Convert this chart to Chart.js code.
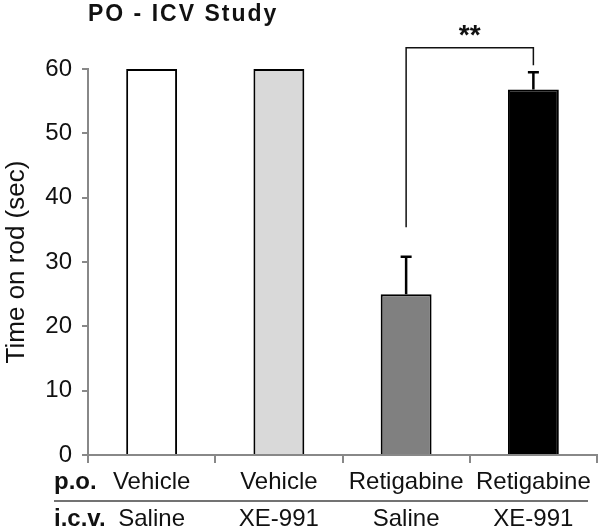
<!DOCTYPE html>
<html lang="en">
<head>
  <meta charset="UTF-8">
  <title>PO - ICV Study</title>
  <script src="https://cdn.jsdelivr.net/npm/chart.js"></script>
  <style>
    html, body { margin: 0; padding: 0; background: #fff; }
    #wrap { width: 600px; height: 528px; }
  </style>
</head>
<body>
  <div id="wrap"><canvas id="rodChart" width="600" height="528"></canvas></div>

  <script>
    // data
    const poLabels = ['Vehicle', 'Vehicle', 'Retigabine', 'Retigabine'];
    const icvLabels = ['Saline', 'XE-991', 'Saline', 'XE-991'];
    const timeOnRod = [60, 60, 25.0, 56.8];
    const sem = [0, 0, 5.8, 2.7];
    const barColors = ['#ffffff', '#d9d9d9', '#808080', '#000000'];
    const rowHeaders = ['p.o.', 'i.c.v.'];
    // significance bracket: between bars 2 and 3, level and leg ends in seconds
    const sigPair = [2, 3];
    const sigLevel = 63.3;
    const sigLegEnds = [35.4, 60.6];
    const sigText = '**';

    const FONT = "'Liberation Sans', Arial, sans-serif";
    const LABEL_SIZE = 24;
    const LINE_H = 37 / 24;
    const X_TICK = 8;
    const X_PAD = 1;

    const extras = {
      id: 'extras',
      afterDraw(chart) {
        const ctx = chart.ctx;
        const xs = chart.scales.x, ys = chart.scales.y;
        const bars = chart.getDatasetMeta(0).data;
        ctx.save();

        // title
        ctx.fillStyle = '#111';
        ctx.font = 'bold 23px ' + FONT;
        ctx.letterSpacing = '2px';
        ctx.textBaseline = 'alphabetic';
        ctx.textAlign = 'left';
        ctx.fillText('PO - ICV Study', chart.chartArea.left, 21);
        ctx.letterSpacing = '0px';

        // error bars (upper only)
        ctx.strokeStyle = '#000';
        ctx.lineWidth = 2.5;
        bars.forEach((b, i) => {
          if (!sem[i]) return;
          const yv = ys.getPixelForValue(timeOnRod[i]);
          const ye = ys.getPixelForValue(timeOnRod[i] + sem[i]);
          ctx.beginPath();
          ctx.moveTo(b.x, yv);
          ctx.lineTo(b.x, ye);
          ctx.moveTo(b.x - 5.5, ye);
          ctx.lineTo(b.x + 5.5, ye);
          ctx.stroke();
        });

        // significance bracket
        const x1 = bars[sigPair[0]].x, x2 = bars[sigPair[1]].x;
        const yl = ys.getPixelForValue(sigLevel);
        ctx.lineWidth = 1.5;
        ctx.strokeStyle = '#111';
        ctx.beginPath();
        ctx.moveTo(x1, ys.getPixelForValue(sigLegEnds[0]));
        ctx.lineTo(x1, yl);
        ctx.lineTo(x2, yl);
        ctx.lineTo(x2, ys.getPixelForValue(sigLegEnds[1]));
        ctx.stroke();
        ctx.font = 'bold 28px ' + FONT;
        ctx.textAlign = 'center';
        ctx.fillStyle = '#111';
        ctx.fillText(sigText, (x1 + x2) / 2, yl - 4);

        // row headers and separator under the x axis
        ctx.textAlign = 'left';
        ctx.textBaseline = 'middle';
        ctx.font = 'bold ' + LABEL_SIZE + 'px ' + FONT;
        const y0 = xs.top + X_TICK + X_PAD;
        const lh = LABEL_SIZE * LINE_H;
        rowHeaders.forEach((t, i) => {
          ctx.fillText(t, 54, y0 + (i + 0.5) * lh);
        });
        ctx.strokeStyle = '#444';
        ctx.lineWidth = 1.5;
        ctx.beginPath();
        const ySep = xs.top + 46;
        ctx.moveTo(54, ySep);
        ctx.lineTo(588, ySep);
        ctx.stroke();

        ctx.restore();
      }
    };

    new Chart(document.getElementById('rodChart'), {
      type: 'bar',
      data: {
        labels: poLabels.map((p, i) => [p, icvLabels[i]]),
        datasets: [{
          data: timeOnRod,
          backgroundColor: barColors,
          borderColor: '#000',
          borderWidth: 2,
          barPercentage: 0.4,
          categoryPercentage: 1,
          clip: 4
        }]
      },
      options: {
        responsive: false,
        animation: false,
        layout: { padding: { top: 69, right: 3, left: 0, bottom: 0 } },
        plugins: { legend: { display: false }, title: { display: false }, tooltip: { enabled: false } },
        scales: {
          x: {
            grid: { offset: true, drawOnChartArea: false, drawTicks: true, tickLength: X_TICK, color: '#888', lineWidth: 2 },
            border: { color: '#888', width: 2 },
            ticks: {
              color: '#111', padding: X_PAD, autoSkip: false, maxRotation: 0,
              font: { family: FONT, size: LABEL_SIZE, lineHeight: LINE_H }
            },
            afterFit: s => { s.height = 73; }
          },
          y: {
            min: 0, max: 60,
            grid: { drawOnChartArea: false, drawTicks: true, tickLength: 6, color: '#888', lineWidth: 2 },
            border: { color: '#888', width: 2 },
            ticks: { stepSize: 10, color: '#111', padding: 10, font: { family: FONT, size: LABEL_SIZE } },
            title: { display: true, text: 'Time on rod (sec)', color: '#111', padding: 1, font: { family: FONT, size: 26 } },
            afterFit: s => { s.width = 88; }
          }
        }
      },
      plugins: [extras]
    });
  </script>
</body>
</html>
